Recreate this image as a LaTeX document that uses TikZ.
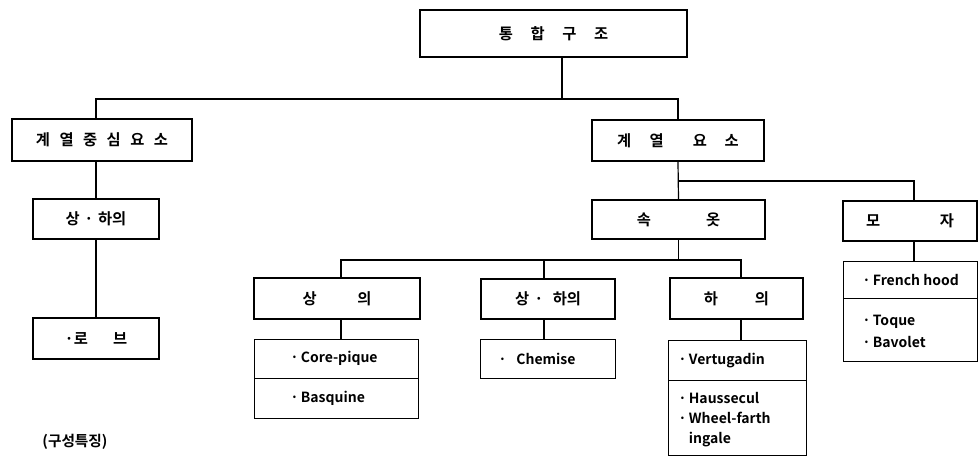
\documentclass[tikz,border=0pt]{standalone}
\usepackage{fontspec}
\setmainfont{Noto Sans CJK KR}[BoldFont={Noto Sans CJK KR Bold}]
\usetikzlibrary{positioning}
\newcommand{\kgap}[1]{\hspace{#1em}}

\begin{document}
\begin{tikzpicture}[x=0.75pt,y=-0.75pt,
  every node/.style={font=\fontsize{10.5}{15}\selectfont\bfseries},
  wh/.style 2 args={minimum width=#1*0.75pt,minimum height=#2*0.75pt},
  box/.style={draw,line width=1pt,inner sep=0pt,font=\fontsize{11.5}{14}\selectfont\bfseries},
  cell/.style={draw,line width=1pt,inner sep=0pt,anchor=north west},
  item/.style={anchor=west,align=left,inner sep=0pt},
  link/.style={line width=0.9pt}]
\useasboundingbox (0,0) rectangle (979,460);
% main boxes
\node[box,wh={267}{47}] (top) at (553.5,33.5) {통\kgap{1.15}합\kgap{1.15}구\kgap{1.15}조};
\node[box,wh={180}{42}] (lmain) at (102,140) {계\kgap{.62}열\kgap{.62}중\kgap{.62}심\kgap{.62}요\kgap{.62}소};
\node[box,wh={126}{40}] (lsub) at (96,219) {상\kgap{.3}·\kgap{.3}하의};
\node[box,wh={126}{41}] (robe) at (96,338.5) {·로\kgap{1.65}브};
\node[box,wh={172}{41}] (rmain) at (678,140.5) {계\kgap{1.2}열\kgap{1.9}요\kgap{1.15}소};
\node[box,wh={173}{39}] (under) at (678.5,219.5) {속\kgap{3.6}옷};
\node[box,wh={134}{40}] (hat) at (910,221) {모\kgap{3.9}자};
\node[box,wh={166}{41}] (upper) at (337,298.5) {상\kgap{2.65}의};
\node[box,wh={134}{40}] (both) at (548,299) {상\kgap{.35}·\kgap{.6}하의};
\node[box,wh={133}{41}] (lower) at (736.5,298.5) {하\kgap{2.4}의};
% item cells
\node[cell,wh={164}{39}] (upA) at (254,339) {};
\node[cell,wh={164}{40}] (upB) at (254,378) {};
\node[cell,wh={135}{39}] (chem) at (480,339) {};
\node[cell,wh={138}{40}] (loA) at (668,340) {};
\node[cell,wh={138}{75}] (loB) at (668,380) {};
\node[cell,wh={134}{37}] (hatA) at (843,261) {};
\node[cell,wh={134}{63}] (hatB) at (843,298) {};
\node[item] (upAt) at (290,358.5) {·\,Core-pique};
\node[item] (upBt) at (290,398) {·\,Basquine};
\node[item] (chemt) at (498,358.5) {·\kgap{.7}Chemise};
\node[item] (loAt) at (678,361) {·\,Vertugadin};
\node[item] (loBt) at (678,420) {·\,Haussecul\\·\,Wheel-farth\\\phantom{·\,}ingale};
\node[item] (hatAt) at (862,280) {·\,French hood};
\node[item,font=\fontsize{10.5}{16.5}\selectfont\bfseries] (hatBt) at (862,331) {·\,Toque\\·\,Bavolet};
\node[font=\fontsize{11}{14}\selectfont\bfseries] (note) at (75,442) {(구성특징)};
% connectors
\coordinate (b0) at (562,99);
\coordinate (b1) at (914,181);
\coordinate (b2) at (544,260);
\coordinate (b2l) at (341,260);
\coordinate (b2r) at (741,260);
\draw[link] (top.south -| b0) -- (b0);
\draw[link] (lsub.north |- lmain.north) |- (b0) -| (rmain.north);
\draw[link] (lsub.north |- lmain.south) -- (lsub.north);
\draw[link] (lsub.south) -- (robe.north);
\draw[link] (rmain.south) -- (under.north);
\draw[link] (rmain.south |- b1) -| (b1 |- hat.north);
\draw[link] (b1 |- hat.south) -- (b1 |- hatA.north);
\draw[link] (under.south) -- (under.south |- b2);
\draw[link] (b2l |- upper.north) -- (b2l) -- (b2r) -- (b2r |- lower.north);
\draw[link] (b2) -- (b2 |- both.north);
\draw[link] (b2l |- upper.south) -- (b2l |- upA.north);
\draw[link] (b2 |- both.south) -- (b2 |- chem.north);
\draw[link] (b2r |- lower.south) -- (b2r |- loA.north);
\end{tikzpicture}
\end{document}
